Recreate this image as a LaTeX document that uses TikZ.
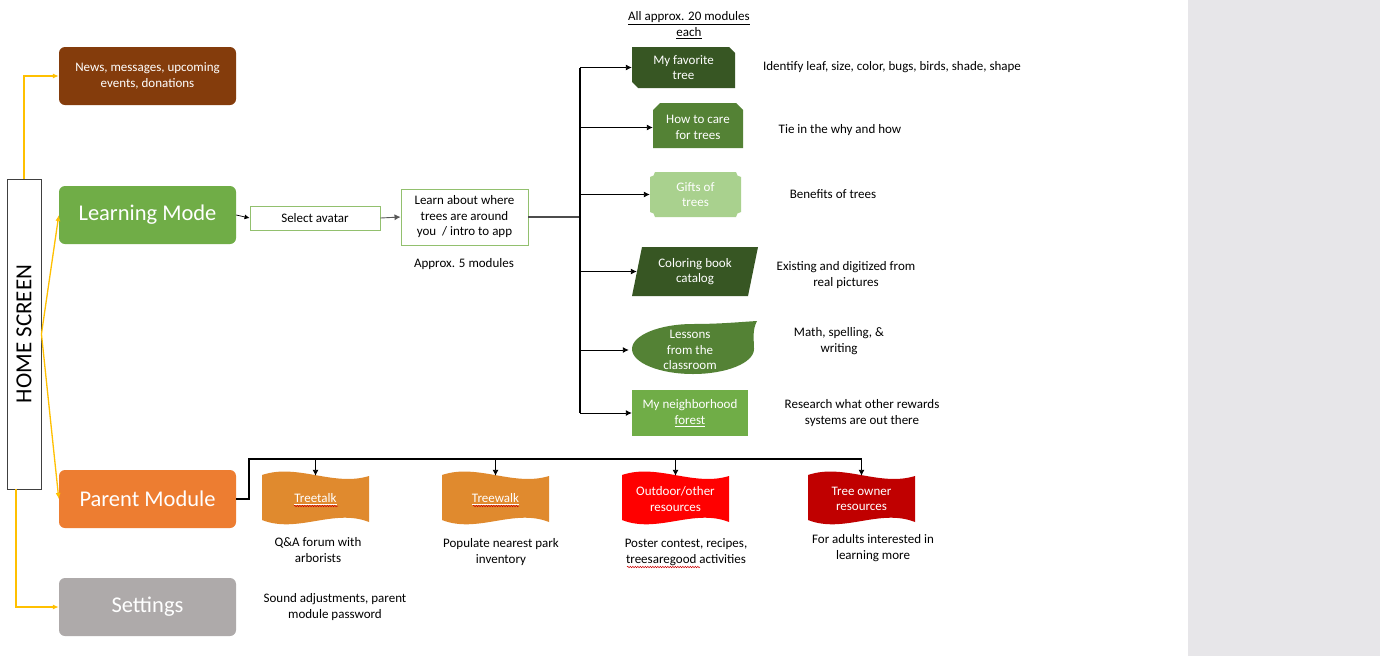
\documentclass[tikz,border=0pt]{standalone}
\usepackage{fontspec}
\setmainfont{Carlito}
\usetikzlibrary{arrows.meta,calc,decorations.pathmorphing}
\definecolor{cBrown}{HTML}{843C0C}
\definecolor{cGreen}{HTML}{70AD47}
\definecolor{cOrange}{HTML}{ED7D31}
\definecolor{cGray}{HTML}{AEAAAA}
\definecolor{cDark}{HTML}{375623}
\definecolor{cMid}{HTML}{548235}
\definecolor{cLight}{HTML}{A9D18E}
\definecolor{cFlag}{HTML}{E08A2E}
\definecolor{cRed}{HTML}{FF0000}
\definecolor{cDRed}{HTML}{C00000}
\definecolor{cYel}{HTML}{FFC000}
\definecolor{cPanel}{HTML}{E7E6E9}
\definecolor{cBord}{HTML}{92C06E}
\newcommand{\sm}{\fontsize{13}{15.5}\selectfont}
\newcommand{\bg}{\fontsize{22.5}{26}\selectfont}
\newcommand{\flagpath}[5]{% x0 y0 w h color
  \fill[#5] (#1,#2+5) .. controls ({#1+0.33*#3},#2-7) and ({#1+0.67*#3},#2+17) .. ({#1+#3},#2+6)
   -- ({#1+#3},{#2+#4-6}) .. controls ({#1+0.67*#3},{#2+#4-20}) and ({#1+0.33*#3},{#2+#4+6}) .. (#1,{#2+#4-8}) -- cycle;}
\tikzset{
  mainbox/.style={rounded corners=6pt, minimum width=177pt, minimum height=58pt, text=white, inner sep=0pt, align=center},
  txt/.style={font=\sm, align=center, inner sep=0pt},
  wtxt/.style={font=\sm, align=center, inner sep=0pt, text=white},
  yarr/.style={draw=cYel, line width=1.3pt, -{Latex[length=6pt,width=5pt]}},
  arr/.style={draw=black, line width=0.9pt, -{Latex[length=6pt,width=6pt]}},
  wbox/.style={draw=cBord, line width=0.9pt, fill=white, font=\sm, align=center, inner sep=0pt},
  spell/.style={draw=red!80!black, line width=0.5pt, decorate, decoration={snake, amplitude=0.7pt, segment length=2.5pt}}
}
\begin{document}
\begin{tikzpicture}[x=1pt,y=-1pt]
\useasboundingbox (0,0) rectangle (1380,656);
\fill[white] (0,0) rectangle (1380,656);
\fill[cPanel] (1188,0) rectangle (1380,656);

% home screen
\node[draw=black!75, line width=0.9pt, fill=white, minimum width=34pt, minimum height=310pt, inner sep=0pt] (hs) at (24,334) {};
\node[rotate=90, font=\fontsize{23}{26}\selectfont] (hst) at (hs.center) {HOME SCREEN};

% main boxes
\node[mainbox, fill=cBrown, font=\sm] (news) at (147.5,76) {News, messages, upcoming\\events, donations};
\node[mainbox, fill=cGreen, font=\bg] (lm) at (147.5,215) {Learning Mode};
\node[mainbox, fill=cOrange, font=\bg] (pm) at (147.5,499) {Parent Module};
\node[mainbox, fill=cGray, font=\bg] (set) at (147.5,607) {Settings};

\draw[yarr] (hs.north) |- (news.west);
\draw[yarr] (hs.east) -- (lm.west);
\draw[yarr] (hs.east) -- (pm.west);
\draw[yarr] ($(hs.south)+(-8,0)$) |- (set.west);

% learning path
\node[wbox, minimum width=130pt, minimum height=24pt] (sa) at (315,218) {Select avatar};
\node[wbox, minimum width=127pt, minimum height=56pt] (la) at (464.5,217) {Learn about where\\trees are around\\you~~/ intro to app};
\node[txt] (ap5) at (464,264) {Approx. 5 modules};
\draw[arr, line width=0.7pt, -{Latex[length=5pt,width=5pt]}] (lm.east) -- (sa.west);
\draw[arr, draw=black!65, line width=0.9pt, -{Latex[length=6pt,width=6pt]}] (sa.east) -- (la.west);

\node[txt] (all) at (689,25) {\underline{All approx. 20 modules}\\\underline{each}};

% module shapes
\fill[cDark] (632,47) -- (729,47) -- (735,53) -- (735,88) -- (638,88) -- (632,82) -- cycle;
\node[wtxt, minimum width=103pt, minimum height=41pt] (mf) at (683.5,67.5) {My favorite\\tree};

\fill[cMid] (660,103) -- (736,103) -- (743,110) -- (743,148) -- (653,148) -- (653,110) -- cycle;
\node[wtxt, minimum width=90pt, minimum height=45pt] (hc) at (698,127.5) {How to care\\for trees};

\fill[cLight] (655,172) -- (736,172) arc[start angle=180, end angle=90, radius=5] -- (741,212)
   arc[start angle=270, end angle=180, radius=5] -- (655,217) arc[start angle=0, end angle=-90, radius=5]
   -- (650,177) arc[start angle=90, end angle=0, radius=5] -- cycle;
\node[wtxt, minimum width=91pt, minimum height=45pt] (gt) at (695.5,194.5) {Gifts of\\trees};

\fill[cDark] (642,247) -- (758,247) -- (748,296) -- (632,296) -- cycle;
\node[wtxt, minimum width=126pt, minimum height=49pt] (cb) at (695,271.5) {Coloring book\\catalog};

\fill[cMid] (754,349) .. controls (754,362.8) and (726.6,374) .. (693,374)
  .. controls (659.4,374) and (632,362.8) .. (632,349)
  .. controls (632,335.2) and (659.4,324) .. (693,324)
  .. controls (720,324) and (740,322) .. (757,321)
  .. controls (752,330) and (754,340) .. (754,349) -- cycle;
\node[wtxt, minimum width=122pt, minimum height=50pt] (ls) at (690,350) {Lessons\\from the\\classroom};

\node[fill=cGreen, wtxt, minimum width=116pt, minimum height=46pt] (nf) at (690,413) {My neighborhood\\\underline{forest}};

% learning bus
\coordinate (lb) at (580,0);
\draw[draw=black!70, line width=1.2pt] (la.east) -- (la.east -| lb);
\draw[line width=1.6pt] (lb |- mf.west) -- (lb |- nf.west);
\draw[arr] (lb |- mf.west) -- (mf.west);
\draw[arr] (lb |- hc.west) -- (hc.west);
\draw[arr] (lb |- gt.west) -- (gt.west);
\draw[arr] (lb |- cb.west) -- ($(cb.west)+(5,0)$);
\draw[arr] (lb |- ls.west) -- (ls.west);
\draw[arr] (lb |- nf.west) -- (nf.west);

% descriptions
\node[txt] (d1) at (892,67) {Identify leaf, size, color, bugs, birds, shade, shape};
\node[txt] (d2) at (840,130) {Tie in the why and how};
\node[txt] (d3) at (833,194) {Benefits of trees};
\node[txt] (d4) at (846,275) {Existing and digitized from\\real pictures};
\node[txt] (d5) at (839,341) {Math, spelling, \&\\writing};
\node[txt] (d6) at (862,413) {Research what other rewards\\systems are out there};

% parent module flags
\flagpath{262}{470}{107}{58}{cFlag}
\flagpath{442}{470}{107}{58}{cFlag}
\flagpath{622}{470}{107}{58}{cRed}
\flagpath{808}{470}{107}{58}{cDRed}
\node[wtxt, minimum width=107pt, minimum height=58pt] (tt) at (315.5,499) {\underline{Treetalk}};
\node[wtxt, minimum width=107pt, minimum height=58pt] (tw) at (495.5,499) {\underline{Treewalk}};
\node[wtxt, minimum width=107pt, minimum height=58pt] (od) at (675.5,499) {Outdoor/other\\resources};
\node[wtxt, minimum width=107pt, minimum height=58pt] (to) at (861.5,499) {Tree owner\\resources};
\draw[spell] (294,506) -- (338,506);
\draw[spell] (473,506) -- (519,506);

\coordinate (pb) at (0,459);
\draw[line width=1.6pt] (pm.east) -- ++(13,0) |- (to.north |- pb);
\draw[arr] (tt.north |- pb) -- ($(tt.north)+(0,6)$);
\draw[arr] (tw.north |- pb) -- ($(tw.north)+(0,6)$);
\draw[arr] (od.north |- pb) -- ($(od.north)+(0,6)$);
\draw[arr] (to.north |- pb) -- ($(to.north)+(0,6)$);

\node[txt] (e1) at (318,550) {Q\&A forum with\\arborists};
\node[txt] (e2) at (501,552) {Populate nearest park\\inventory};
\node[txt] (e3) at (686,552) {Poster contest, recipes,\\treesaregood activities};
\draw[spell] (627,567) -- (700,567);
\node[txt] (e4) at (873,548) {For adults interested in\\learning more};
\node[txt] (e5) at (335,607) {Sound adjustments, parent\\module password};
\end{tikzpicture}
\end{document}
